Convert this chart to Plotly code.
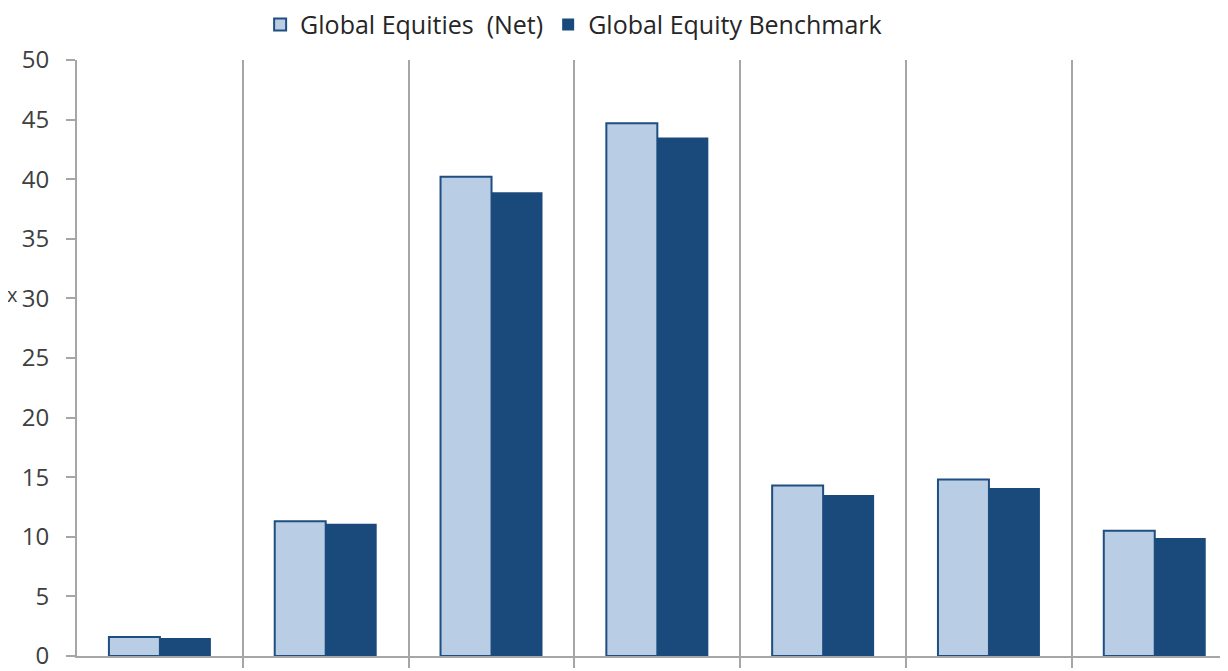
import plotly.graph_objects as go

categories = ["C1", "C2", "C3", "C4", "C5", "C6", "C7"]
net_values = [1.6, 11.3, 40.2, 44.7, 14.3, 14.8, 10.5]
bench_values = [1.5, 11.1, 38.9, 43.5, 13.5, 14.1, 9.9]
series_names = ["Global Equities  (Net)", "Global Equity Benchmark"]
y_ticks = [0, 5, 10, 15, 20, 25, 30, 35, 40, 45, 50]

x_pos = list(range(len(categories)))
boundaries = [i + 0.5 for i in range(len(categories))]

FONT = "'Open Sans', 'DejaVu Sans', sans-serif"

fig = go.Figure()
fig.add_trace(go.Bar(
    x=x_pos, y=net_values, name=series_names[0],
    marker=dict(color="#B9CDE5", line=dict(color="#1F4E80", width=2)),
))
fig.add_trace(go.Bar(
    x=x_pos, y=bench_values, name=series_names[1],
    marker=dict(color="#1A4A7C", line=dict(color="#1A4A7C", width=0)),
))

fig.update_layout(
    width=1228, height=671,
    margin=dict(l=69, r=0, t=52, b=23, autoexpand=False),
    paper_bgcolor="white", plot_bgcolor="white",
    barmode="group", bargap=0.385, bargroupgap=0,
    font=dict(family=FONT, size=22, color="#404040"),
    legend=dict(orientation="h", x=0.158, xanchor="left",
                y=0.975, yanchor="middle", yref="container",
                font=dict(family=FONT, size=25, color="#262626"),
                traceorder="normal", itemwidth=30),
    showlegend=True,
)

fig.update_xaxes(
    range=[-0.5, 6.49], automargin=False,
    tickvals=boundaries, ticktext=["" for _ in boundaries],
    showgrid=True, gridcolor="#A6A6A6", gridwidth=2,
    showline=True, linecolor="#A6A6A6", linewidth=2,
    ticks="outside", ticklen=10, tickcolor="#A6A6A6", tickwidth=2,
    zeroline=False,
)
fig.update_yaxes(
    range=[0, 50], tickvals=y_ticks, automargin=False,
    showgrid=False, zeroline=False,
    showline=True, linecolor="#A6A6A6", linewidth=2,
    ticks="outside", ticklen=9, tickcolor="#A6A6A6", tickwidth=2,
    ticklabelstandoff=12,
    tickfont=dict(family=FONT, size=24, color="#404040"),
)

fig.add_annotation(text="x", xref="paper", yref="y", x=-0.0595, y=30.3,
                   showarrow=False, xanchor="left", yanchor="middle",
                   borderpad=0, xshift=-2,
                   font=dict(family=FONT, size=20, color="#404040"))

fig.write_html("out.html")
